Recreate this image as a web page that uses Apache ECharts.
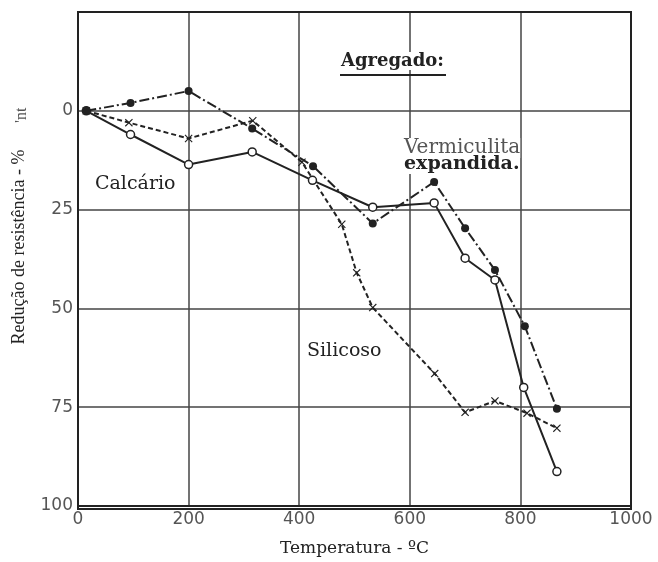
<!DOCTYPE html>
<html>
<head>
<meta charset="utf-8">
<script src="https://cdn.jsdelivr.net/npm/echarts@6/dist/echarts.min.js"></script>
<style>
  html, body { margin: 0; padding: 0; background: #fff; }
  #chart { width: 658px; height: 562px; }
</style>
</head>
<body>
<div id="chart"></div>
<script>
// temperatura (°C) e redução de resistência (%) por agregado
const vermiculita = [[15, 0], [95, -2], [200, -5], [315, 4.5], [425, 14], [533, 28.5], [644, 18], [700, 29.7], [754, 40.3], [808, 54.5], [866, 75.4]]
const calcario = [[15, 0], [95, 6], [200, 13.6], [315, 10.4], [424, 17.6], [533, 24.4], [644, 23.3], [700, 37.3], [754, 42.8], [806, 70], [866, 91.3]]
const silicoso = [[15, 0], [92, 3], [200, 7], [316, 2.5], [405, 13], [477, 28.7], [504, 41], [533, 49.8], [645, 66.5], [700, 76.3], [754, 73.4], [812, 76.5], [866, 80.3]]
const yTicks = [0, 25, 50, 75, 100]

const ink = '#222'
const serif = '"DejaVu Serif", serif'
const sans = '"DejaVu Sans", sans-serif'
const cross = 'path://M0,1L1,0L5,4L9,0L10,1L6,5L10,9L9,10L5,6L1,10L0,9L4,5Z'

const myChart = echarts.init(document.getElementById('chart'))

const option = {
  animation: false,
  backgroundColor: '#fff',
  grid: { left: 78, top: 12, right: 27, bottom: 53 },
  xAxis: {
    type: 'value',
    min: 0,
    max: 1000,
    interval: 200,
    name: 'Temperatura - ºC',
    nameLocation: 'middle',
    nameGap: 34,
    nameTextStyle: { fontFamily: serif, fontSize: 17, color: ink },
    axisLine: { onZero: false, lineStyle: { color: ink, width: 2 } },
    axisTick: { show: false },
    axisLabel: { fontFamily: sans, fontSize: 17, color: '#555', margin: 5, formatter: v => String(v) },
    splitLine: { lineStyle: { color: '#444', width: 1.5 } }
  },
  yAxis: {
    type: 'value',
    inverse: true,
    min: -25,
    max: 100,
    interval: 25,
    name: 'Redução de resistência - %',
    nameLocation: 'middle',
    nameGap: 50,
    nameRotate: 90,
    nameTextStyle: { fontFamily: '"Liberation Serif", serif', fontSize: 18, color: ink, padding: [0, 0, 0, 24] },
    axisLine: { onZero: false, lineStyle: { color: ink, width: 2 } },
    axisTick: { show: false },
    axisLabel: {
      fontFamily: sans, fontSize: 17, color: '#555', margin: 5,
      formatter: v => (yTicks.includes(v) ? String(v) : '')
    },
    splitLine: { lineStyle: { color: '#444', width: 1.5 } }
  },
  graphic: [
    // moldura
    { type: 'rect', shape: { x: 78, y: 12, width: 553, height: 497 }, style: { fill: 'none', stroke: ink, lineWidth: 2 }, silent: true, z: 1 },
    { type: 'text', x: 339, y: 52, z: 10, style: { text: 'Agregado:', font: 'bold 18px ' + serif, fill: ink, backgroundColor: '#fff', padding: [0, 2] } },
    { type: 'line', shape: { x1: 340, y1: 75, x2: 446, y2: 75 }, style: { stroke: ink, lineWidth: 2 }, z: 10 },
    { type: 'text', x: 404, y: 138, z: 10, style: { text: 'Vermiculita', font: '20px ' + serif, fill: '#555', backgroundColor: '#fff' } },
    { type: 'text', x: 404, y: 155, z: 10, style: { text: 'expandida.', font: 'bold 19px ' + serif, fill: ink, backgroundColor: '#fff' } },
    { type: 'text', x: 95, y: 175, z: 10, style: { text: 'Calcário', font: '19px ' + serif, fill: ink } },
    { type: 'text', x: 307, y: 342, z: 10, style: { text: 'Silicoso', font: '19px ' + serif, fill: ink } },
    { type: 'text', x: 14, y: 123, rotation: Math.PI / 2, z: 10, style: { text: "'nt", font: '16px "Liberation Serif", serif', fill: '#555' } }
  ],
  series: [
    {
      name: 'Vermiculita expandida',
      type: 'line',
      data: vermiculita,
      symbol: 'circle',
      symbolSize: 8,
      itemStyle: { color: ink },
      lineStyle: { color: ink, width: 2, type: [10, 3, 2, 3] },
      z: 5
    },
    {
      name: 'Calcário',
      type: 'line',
      data: calcario,
      symbol: 'circle',
      symbolSize: 8,
      itemStyle: { color: '#fff', borderColor: ink, borderWidth: 1.5 },
      lineStyle: { color: ink, width: 2 },
      z: 4
    },
    {
      name: 'Silicoso',
      type: 'line',
      data: silicoso,
      symbol: cross,
      symbolSize: 8,
      itemStyle: { color: ink },
      lineStyle: { color: ink, width: 2, type: [5, 3] },
      z: 3
    }
  ]
}

myChart.setOption(option)
</script>
</body>
</html>
